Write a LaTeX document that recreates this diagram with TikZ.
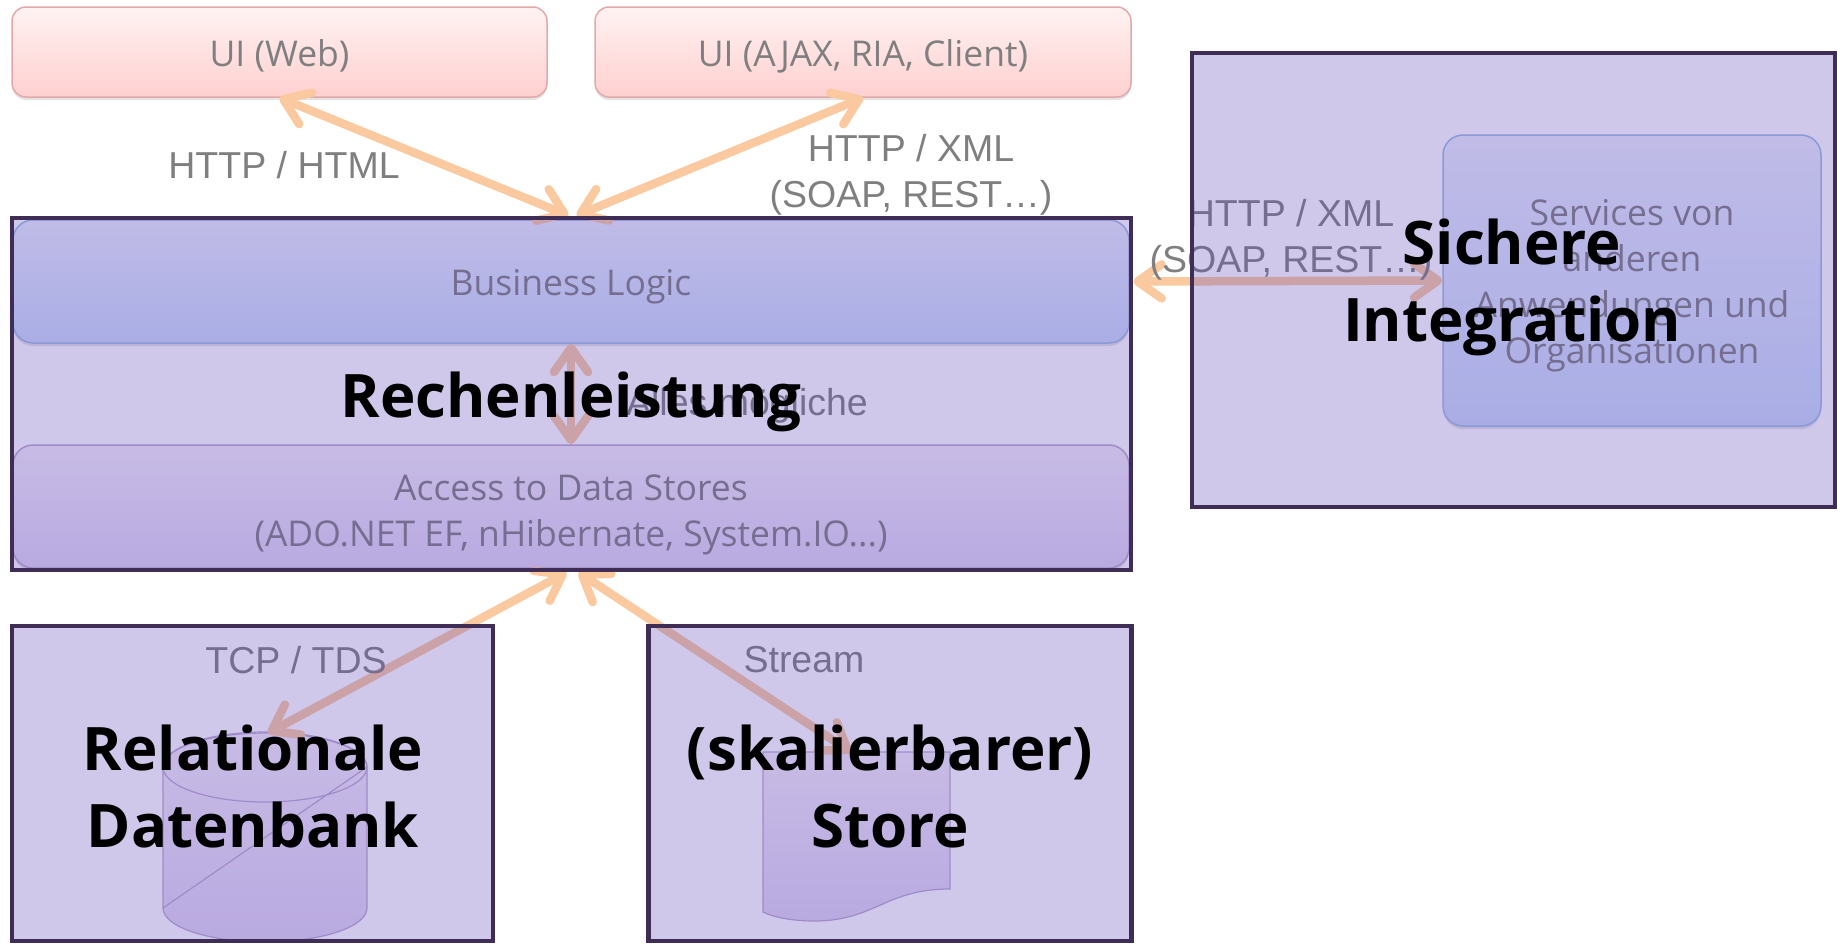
\documentclass[tikz,border=0pt]{standalone}
\usepackage{fontspec}
\setmainfont{Open Sans}
\newfontfamily\arialfont{Liberation Sans}
\usetikzlibrary{arrows.meta,backgrounds,shadows}
\definecolor{frameInk}{HTML}{3F2D56}
\definecolor{veilFill}{HTML}{5F48B9}
\definecolor{labelInk}{HTML}{7F7F7F}
\definecolor{flowInk}{HTML}{FAC9A0}
\definecolor{redEdge}{HTML}{E3A9A9}
\definecolor{redTop}{HTML}{FFF2F2}
\definecolor{redLow}{HTML}{FFD0D0}
\definecolor{blueEdge}{HTML}{9FBEE4}
\definecolor{blueTop}{HTML}{EBEEFC}
\definecolor{blueLow}{HTML}{CADAF9}
\definecolor{plumEdge}{HTML}{BCA9CF}
\definecolor{plumTop}{HTML}{F5EEF9}
\definecolor{plumLow}{HTML}{E0D4F2}
\tikzset{
  softshadow/.style={drop shadow={opacity=.22,shadow xshift=0pt,shadow yshift=-3pt}},
  veil/.style={draw=frameInk,line width=4.8pt,fill=veilFill,fill opacity=.3},
  veiltitle/.style={text=black,align=center,inner sep=0pt,font=\fontsize{60}{77}\selectfont\bfseries},
  uibox/.style={draw=redEdge,line width=1.5pt,rounded corners=14pt,top color=redTop,bottom color=redLow,softshadow},
  bluebox/.style={draw=blueEdge,line width=1.5pt,rounded corners=20pt,top color=blueTop,bottom color=blueLow,softshadow},
  plumbox/.style={draw=plumEdge,line width=1.5pt,rounded corners=20pt,top color=plumTop,bottom color=plumLow,softshadow},
  boxtext/.style={text=labelInk,align=center,inner sep=0pt,font=\fontsize{35.5}{46}\selectfont},
  storeshape/.style={draw=plumEdge,line width=1.2pt,top color=plumTop,bottom color=plumLow},
  wire/.style={draw=flowInk,line width=8.5pt,{Straight Barb[length=24pt,width=34pt,round]}-{Straight Barb[length=24pt,width=34pt,round]}},
  wirelabel/.style={text=labelInk,align=center,font=\arialfont\fontsize{37.5}{46}\selectfont}
}
\begin{document}
\begin{tikzpicture}[x=1pt,y=-1pt]
\useasboundingbox (0,0) rectangle (1837,943);
\node[veil,minimum width=1119pt,minimum height=352pt] (computeFrame) at (571.5,394) {}; % Frame.compute
\node[veil,minimum width=643pt,minimum height=454pt] (integrationFrame) at (1513.5,280) {}; % Frame.integration
\node[veil,minimum width=481pt,minimum height=315pt] (databaseFrame) at (252.5,783.5) {}; % Frame.database
\node[veil,minimum width=483pt,minimum height=315pt] (storeFrame) at (890,783.5) {}; % Frame.store
\node[veiltitle] (computeTitle) at (571,402) {Rechenleistung}; % Title.compute
\node[veiltitle] (integrationTitle) at (1512,287) {Sichere\\Integration}; % Title.integration
\node[veiltitle] (databaseTitle) at (253,786) {Relationale\\Datenbank}; % Title.database
\node[veiltitle] (storeTitle) at (890,786) {(skalierbarer)\\Store}; % Title.store
\begin{scope}[on background layer]
\node[uibox,minimum width=535pt,minimum height=90pt] (uiWeb) at (279.5,52) {}; % Box.web
\node[uibox,minimum width=536pt,minimum height=90pt] (uiClient) at (863,52) {}; % Box.client
\node[bluebox,minimum width=1116pt,minimum height=123pt] (logic) at (571,281.5) {}; % Box.logic
\node[plumbox,minimum width=1116pt,minimum height=123pt] (access) at (571,506.5) {}; % Box.access
\node[bluebox,minimum width=378pt,minimum height=291pt] (services) at (1632,280.5) {}; % Box.services
\node[boxtext] (uiWebText) at ([yshift=-4pt]uiWeb.center) {UI (Web)}; % Box.web
\node[boxtext] (uiClientText) at ([yshift=-4pt]uiClient.center) {UI (AJAX, RIA, Client)}; % Box.client
\node[boxtext] (logicText) at ([yshift=-5pt]logic.center) {Business Logic}; % Box.logic
\node[boxtext] (accessText) at ([yshift=-8pt]access.center) {Access to Data Stores\\(ADO.NET EF, nHibernate, System.IO...)}; % Box.access
\node[boxtext] (servicesText) at ([yshift=-5pt]services.center) {Services von\\anderen\\Anwendungen und\\Organisationen}; % Box.services
\draw[storeshape] (163,767) .. controls (163,748) and (209,733) .. (265,733) .. controls (321,733) and (367,748) .. (367,767) -- (367,908) .. controls (367,927) and (321,942) .. (265,942) .. controls (209,942) and (163,927) .. (163,908) -- cycle; % Shape.cylinder
\draw[draw=plumEdge,line width=1.2pt] (265,767) ellipse [x radius=102,y radius=35]; % Shape.cylinder
\draw[draw=plumEdge,line width=1.2pt] (163,908) -- (367,767); % Shape.cylinder
\draw[storeshape] (763,752) -- (950,752) -- (950,889) .. controls (885,889) and (875,921) .. (814,921) .. controls (795,921) and (775,918) .. (763,912) -- cycle; % Shape.document
\coordinate (databaseTop) at (268,733);
\coordinate (documentTop) at (851,752);
\draw[wire] (uiWeb.south) -- ([xshift=-3pt]computeFrame.north); % Flow.web
\draw[wire] (uiClient.south) -- ([xshift=5pt]computeFrame.north); % Flow.client
\draw[wire] (logic.south) -- (access.north); % Flow.inner
\draw[wire] (computeFrame.east |- logic.east) -- (services.west); % Flow.services
\draw[wire] ([xshift=-5pt]computeFrame.south) -- (databaseTop); % Flow.database
\draw[wire] ([xshift=7pt]computeFrame.south) -- (documentTop); % Flow.document
\node[wirelabel] (labelHtml) at (284,165) {HTTP / HTML}; % Label.web
\node[wirelabel] (labelClient) at (911,175) {HTTP / XML\\(SOAP, REST…)}; % Label.client
\node[wirelabel] (labelServices) at (1291,240) {HTTP / XML\\(SOAP, REST…)}; % Label.services
\node[wirelabel] (labelInner) at (747,406) {Alles mögliche}; % Label.inner
\node[wirelabel] (labelTds) at (296,660) {TCP / TDS}; % Label.database
\node[wirelabel] (labelStream) at (804,660) {Stream}; % Label.document
\end{scope}
\end{tikzpicture}
\end{document}
